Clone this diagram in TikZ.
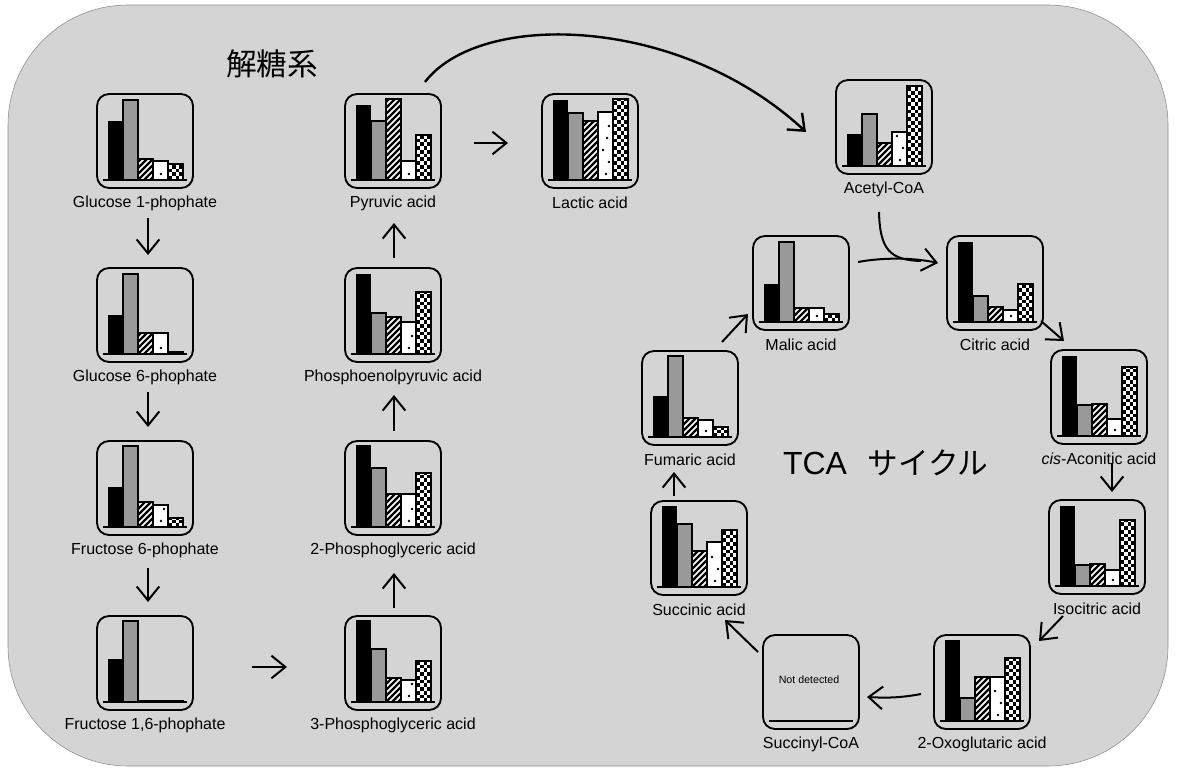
\documentclass[tikz,border=0pt]{standalone}
\usepackage{fontspec}
\setmainfont{Liberation Sans}
\setsansfont{Liberation Sans}
\newfontfamily\jpfont{Noto Sans CJK JP}
\usetikzlibrary{arrows.meta}

\tikzset{
  panel/.style={draw=black, line width=1.4pt, rounded corners=9pt, minimum width=72pt, minimum height=70.5pt, inner sep=0pt},
  lbl/.style={font=\fontsize{12}{14}\selectfont, inner sep=0pt},
  arr/.style={line width=1.5pt, -{Straight Barb[length=10.5pt,width=17pt]}},
  plainline/.style={line width=1.5pt},
  barline/.style={line width=1.1pt},
  bgpanel/.style={fill=black!17, draw=black!45, line width=0.4pt, rounded corners=90pt},
}

\newcommand\bblack[3]{\fill[black] ({#1},{#2}) rectangle ({#1+15},{#2-#3});}
\newcommand\bgray[3]{\filldraw[fill=black!40,draw=black,barline] ({#1},{#2}) rectangle ({#1+15},{#2-#3});}
\newcommand\bhatch[3]{%
  \begin{scope}
    \clip ({#1},{#2}) rectangle ({#1+15},{#2-#3});
    \fill[white] ({#1},{#2}) rectangle ({#1+15},{#2-#3});
    \foreach \k in {-90,-84,...,18} \draw[line width=1.7pt] ({#1+\k},{#2}) -- ++(95,-95);
  \end{scope}
  \draw[barline] ({#1},{#2}) rectangle ({#1+15},{#2-#3});}
\newcommand\bdot[3]{%
  \filldraw[fill=white,draw=black,barline] ({#1},{#2}) rectangle ({#1+15},{#2-#3});
  \foreach \d/\e in {6/8,18/11,30/5,42/9,54/11,66/5,78/9} {%
    \pgfmathparse{int(\d<#3-3)}%
    \ifnum\pgfmathresult=1 \fill ({#1+\e},{#2-\d}) circle[radius=1.1pt];\fi
  }}
\newcommand\bcheck[3]{%
  \begin{scope}
    \clip ({#1},{#2}) rectangle ({#1+15},{#2-#3});
    \fill[white] ({#1},{#2}) rectangle ({#1+15},{#2-#3});
    \foreach \i in {0,...,3} \foreach \j in {0,...,22} {%
      \ifodd\numexpr\i+\j\relax\else \fill[black] ({#1+\i*3.75},{#2-\j*3.75}) rectangle ++(3.75,-3.75);\fi
    }
  \end{scope}
  \draw[barline] ({#1},{#2}) rectangle ({#1+15},{#2-#3});}

% name, x, y, h1..h5, label
\newcommand\chart[9]{%
  \node[panel] (#1) at ({#2+48},{#3+47}) {};
  \bblack{#2+11}{#3+86}{#4}
  \bgray{#2+26}{#3+86}{#5}
  \bhatch{#2+41}{#3+86}{#6}
  \bdot{#2+56}{#3+86}{#7}
  \bcheck{#2+71}{#3+86}{#8}
  \draw[line width=1.3pt] ({#2+6},{#3+86}) -- ({#2+90},{#3+86});
  \node[lbl] (#1l) at ({#2+48},{#3+109}) {#9};
}

\begin{document}
\begin{tikzpicture}[x=0.75pt,y=-0.75pt]
\useasboundingbox (0,0) rectangle (1178,770);
\path[bgpanel] (8,5) rectangle (1168,766);

% titles
\node[font=\jpfont\fontsize{23}{23}\selectfont, inner sep=0pt] (glyco) at (272,64) {解糖系};
\node[font=\fontsize{24}{24}\selectfont, inner sep=0pt] (tca) at (815,463) {TCA};
\node[font=\jpfont\fontsize{23}{23}\selectfont, inner sep=0pt] (cyc) at (928,463) {サイクル};

% glycolysis
\chart{g1p}{97}{94}{59}{80}{21}{19}{16}{Glucose 1-phophate}
\chart{g6p}{97}{268}{39}{80}{21}{21}{2}{Glucose 6-phophate}
\chart{f6p}{97}{441}{40}{81}{25}{22}{9}{Fructose 6-phophate}
\chart{f16p}{97}{616}{43}{81}{1.5}{1.5}{1.5}{Fructose 1,6-phophate}
\chart{pyr}{345}{94}{75}{59}{81}{19}{45}{Pyruvic acid}
\chart{pep}{345}{268}{80}{41}{37}{32}{62}{Phosphoenolpyruvic acid}
\chart{pg2}{345}{441}{82}{59}{33}{33}{54}{2-Phosphoglyceric acid}
\chart{pg3}{345}{616}{82}{53}{24}{22}{41}{3-Phosphoglyceric acid}
\chart{lac}{542}{94}{80}{67}{59}{68}{81}{Lactic acid}

% TCA cycle
\chart{acoa}{836}{80}{32}{52}{23}{34}{80}{Acetyl-CoA}
\chart{mal}{753}{236}{38}{80}{14}{14}{8}{Malic acid}
\chart{cit}{947}{236}{80}{26}{15}{12}{38}{Citric acid}
\chart{cis}{1051}{350}{80}{31}{32}{17}{69}{\textit{cis}-Aconitic acid}
\chart{iso}{1049}{500}{80}{21}{22}{16}{66}{Isocitric acid}
\chart{oxo}{934}{635}{81}{23}{44}{44}{63}{2-Oxoglutaric acid}
\chart{suc}{651}{501}{81}{63}{36}{45}{57}{Succinic acid}
\chart{fum}{642}{351}{41}{81}{19}{17}{10}{Fumaric acid}

% Succinyl-CoA (not detected)
\node[panel] (scoa) at (811,682) {};
\draw[line width=1.3pt] (769,721) -- (853,721);
\node[font=\fontsize{8}{9}\selectfont, inner sep=0pt] (nd) at (809,680) {Not detected};
\node[lbl] (scoal) at (811,744) {Succinyl-CoA};

% connector end points
\coordinate (a1s) at (148,218);  \coordinate (a1e) at (148,255);
\coordinate (a2s) at (148,392);  \coordinate (a2e) at (148,427);
\coordinate (a3s) at (148,568);  \coordinate (a3e) at (148,602);
\coordinate (a4s) at (252,667);  \coordinate (a4e) at (287,667);
\coordinate (a5s) at (394,608);  \coordinate (a5e) at (394,573);
\coordinate (a6s) at (394,431);  \coordinate (a6e) at (394,395);
\coordinate (a7s) at (394,258);  \coordinate (a7e) at (394,223);
\coordinate (a8s) at (474,143);  \coordinate (a8e) at (508,143);
\coordinate (a9s) at (425,82);   \coordinate (a9e) at (806,132);
\coordinate (b1s) at (879,212);  \coordinate (b1e) at (921,261);
\coordinate (b2s) at (858,262);  \coordinate (b2e) at (938,263);
\coordinate (b3s) at (1041,321); \coordinate (b3e) at (1064,341);
\coordinate (b4s) at (1112,463); \coordinate (b4e) at (1112,492);
\coordinate (b5s) at (1063,616); \coordinate (b5e) at (1039,641);
\coordinate (b6s) at (921,694);  \coordinate (b6e) at (867,697);
\coordinate (b7s) at (758,652);  \coordinate (b7e) at (725,620);
\coordinate (b8s) at (674,496);  \coordinate (b8e) at (674,472);
\coordinate (b9s) at (722,342);  \coordinate (b9e) at (748,314);

% glycolysis arrows
\draw[arr] (a1s) -- (a1e);
\draw[arr] (a2s) -- (a2e);
\draw[arr] (a3s) -- (a3e);
\draw[arr] (a4s) -- (a4e);
\draw[arr] (a5s) -- (a5e);
\draw[arr] (a6s) -- (a6e);
\draw[arr] (a7s) -- (a7e);
\draw[arr] (a8s) -- (a8e);
\draw[arr, line width=1.8pt] (a9s) .. controls (480,10) and (680,15) .. (a9e);

% TCA arrows
\draw[plainline] (b1s) .. controls (880,250) and (890,260) .. (b1e);
\draw[arr] (b2s) .. controls (885,257) and (915,258) .. (b2e);
\draw[arr] (b3s) -- (b3e);
\draw[arr] (b4s) -- (b4e);
\draw[arr] (b5s) -- (b5e);
\draw[arr] (b6s) .. controls (900,698) and (885,698) .. (b6e);
\draw[arr] (b7s) -- (b7e);
\draw[arr] (b8s) -- (b8e);
\draw[arr] (b9s) -- (b9e);
\end{tikzpicture}
\end{document}
